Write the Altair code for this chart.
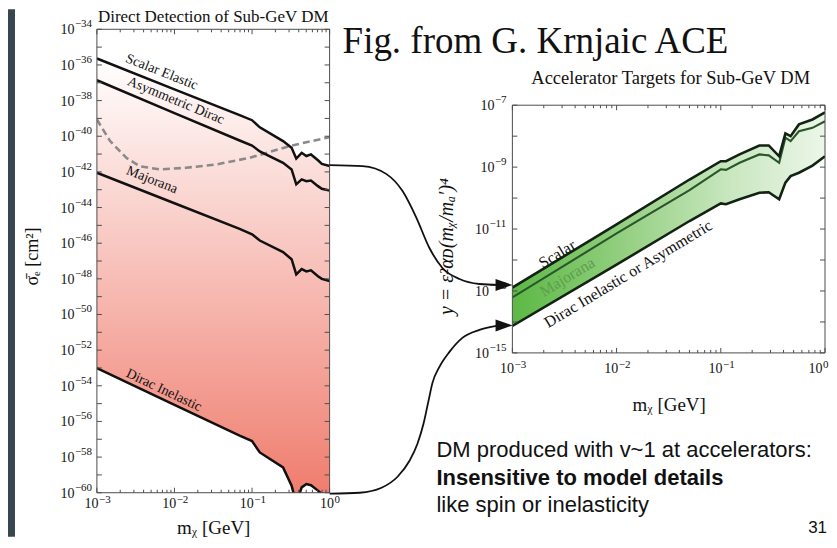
import altair as alt
import pandas as pd

SERIF = "Liberation Serif, DejaVu Serif, serif"
SANS = "Liberation Sans, Arial, sans-serif"
SLATE = "#37474f"
FRAME = "#4d4d4d"
INK = "#111111"

# layout in px
L_W, L_H = 233, 464
R_W, R_H, R_TOP = 313, 324, 76
GAP = 183

# ---------------- Left: Direct Detection of Sub-GeV DM (log10 values) -------------
dd_log_mass = [-3.0, -2.0, -1.16, -1.0, -0.9, -0.6, -0.49, -0.43, -0.36, -0.3, -0.24, -0.15, -0.1, 0.0]
dd_scalar_elastic = [-35.64, -37.37, -38.82, -39.10, -39.50, -40.27, -40.65, -41.25, -40.93, -41.11, -41.02, -41.35, -41.55, -41.67]
dd_asymmetric_dirac = [-36.86, -38.70, -40.24, -40.52, -40.85, -41.49, -41.86, -42.70, -42.42, -42.52, -42.48, -42.80, -42.95, -43.04]
dd_majorana = [-42.05, -43.76, -45.20, -45.50, -45.85, -46.50, -46.90, -47.75, -47.45, -47.58, -47.52, -47.85, -48.00, -48.12]
dd_dirac_inelastic = [-53.01, -55.07, -56.80, -57.10, -57.74, -58.58, -59.60, -60.60, -59.70, -59.51, -59.58, -59.88, -60.07, -60.30]
dd_bound_log_mass = [-3.0, -2.83, -2.62, -2.45, -2.19, -1.85, -1.46, -1.03, -0.515, 0.0]
dd_bound_log_sigma = [-39.06, -40.27, -41.21, -41.68, -41.86, -41.77, -41.58, -41.21, -40.55, -40.05]
dd_label_text = ["Scalar Elastic", "Asymmetric Dirac", "Majorana", "Dirac Inelastic"]
dd_label_log_mass = [-2.163, -1.983, -2.29, -2.137]
dd_label_log_sigma = [-36.40, -38.00, -42.45, -54.25]
dd_label_angle = [21.6, 22.5, 21.5, 25.3]
dd_x_domain = [1e-3, 1.0]
dd_y_domain = [1e-60, 1e-34]
dd_y_label_exps = [-60, -58, -56, -54, -52, -50, -48, -46, -44, -42, -40, -38, -36, -34]

# ---------------- Right: Accelerator Targets for Sub-GeV DM -------------
acc_log_mass = [-3.0, -2.0, -1.3, -1.0, -0.95, -0.82, -0.63, -0.54, -0.44, -0.38, -0.33, -0.25, -0.12, 0.0]
acc_scalar = [-12.89, -10.85, -9.40, -8.81, -8.81, -8.59, -8.30, -8.30, -8.65, -7.91, -8.00, -7.62, -7.46, -7.23]
acc_majorana = [-13.21, -11.14, -9.74, -9.07, -9.09, -8.86, -8.59, -8.62, -8.86, -8.05, -8.16, -7.84, -7.73, -7.52]
acc_dirac_inel_or_asym = [-14.13, -12.15, -10.74, -10.17, -10.20, -10.04, -9.83, -9.81, -10.04, -9.50, -9.29, -9.18, -8.95, -8.65]
acc_label_text = ["Scalar", "Majorana", "Dirac Inelastic or Asymmetric"]
acc_label_log_mass = [-2.569, -2.473, -1.888]
acc_label_log_y = [-11.81, -12.55, -12.45]
acc_label_color = ["#111111", "#5e9e4e", "#111111"]
acc_x_domain = [1e-3, 1.0]
acc_y_domain = [1e-15, 1e-7]
acc_y_label_exps_1digit = [-9, -7]
acc_y_label_exps_2digit = [-15, -13, -11]

# connector arrows (expressed in the right panel's coordinates, log10)
arrow_top_log_mass = [-4.754, -4.438, -4.208, -4.054, -3.920, -3.796, -3.671, -3.508, -3.316, -3.125]
arrow_top_log_y = [-8.935, -8.968, -9.226, -9.774, -10.645, -11.613, -12.258, -12.613, -12.774, -12.806]
arrow_bottom_log_mass = [-4.754, -4.466, -4.256, -4.102, -3.987, -3.911, -3.853, -3.805, -3.767, -3.700, -3.604, -3.480, -3.316, -3.153]
arrow_bottom_log_y = [-19.548, -19.516, -19.355, -19.000, -18.484, -17.935, -17.290, -16.548, -15.968, -15.452, -14.968, -14.516, -14.258, -14.129]
arrow_head_log_mass = [-3.08, -3.08]
arrow_head_log_y = [-12.806, -14.113]

x_label_exps_neg = [-3, -2, -1]
x_label_exps_zero = [0]
x_major_ticks = [1e-3, 1e-2, 1e-1, 1.0]
x_minor_ticks = [k * 10.0 ** e for e in (-3, -2, -1) for k in range(2, 10)]
dd_y_ticks = [10.0 ** e for e in range(-60, -33)]
acc_y_ticks = [10.0 ** e for e in range(-15, -6)]

slide_lines = ["DM produced with v~1 at accelerators:", "Insensitive to model details", "like spin or inelasticity"]
page_number = "31"


def pw(vals):
    return [10.0 ** v for v in vals]


def exp_str(e):
    return ("\u2212" + str(-e)) if e < 0 else str(e)


one = pd.DataFrame({"a": [0]})

ax_common = dict(labels=False, ticks=False, tickSize=0, domain=False, grid=False,
                 titleFont=SERIF, titleColor=INK, titleFontWeight="normal")


def tick_layers(xs, ys, xa, ya, width, top_px, bottom_px, y_ticks):
    out = []
    for vals, ln in ((x_major_ticks, 5), (x_minor_ticks, 3)):
        base = alt.Chart(pd.DataFrame({"t": vals})).mark_rule(color=FRAME, strokeWidth=1)
        out.append(base.encode(x=alt.X("t:Q", scale=xs, axis=xa), y=alt.value(bottom_px), y2=alt.value(bottom_px - ln)))
        out.append(base.encode(x=alt.X("t:Q", scale=xs, axis=xa), y=alt.value(top_px), y2=alt.value(top_px + ln)))
    base = alt.Chart(pd.DataFrame({"t": y_ticks})).mark_rule(color=FRAME, strokeWidth=1)
    out.append(base.encode(y=alt.Y("t:Q", scale=ys, axis=ya), x=alt.value(0), x2=alt.value(5)))
    out.append(base.encode(y=alt.Y("t:Q", scale=ys, axis=ya), x=alt.value(width), x2=alt.value(width - 5)))
    return out


def x_label_layers(exps, xs, xa, y_base, dx):
    d = pd.DataFrame({"v": [10.0 ** e for e in exps], "base": "10", "exp": [exp_str(e) for e in exps]})
    b = alt.Chart(d).mark_text(font=SERIF, fontSize=14, color=INK, align="right", baseline="top", dx=dx).encode(
        x=alt.X("v:Q", scale=xs, axis=xa), y=alt.value(y_base), text="base:N")
    s = alt.Chart(d).mark_text(font=SERIF, fontSize=11, color=INK, align="left", baseline="top", dx=dx + 0.5).encode(
        x=alt.X("v:Q", scale=xs, axis=xa), y=alt.value(y_base - 3), text="exp:N")
    return [b, s]


def y_label_layers(exps, ys, ya, x_exp):
    d = pd.DataFrame({"v": [10.0 ** e for e in exps], "base": "10", "exp": [exp_str(e) for e in exps]})
    b = alt.Chart(d).mark_text(font=SERIF, fontSize=14, color=INK, align="right", baseline="middle", dy=1).encode(
        y=alt.Y("v:Q", scale=ys, axis=ya), x=alt.value(x_exp - 0.5), text="base:N")
    s = alt.Chart(d).mark_text(font=SERIF, fontSize=11, color=INK, align="left", baseline="middle", dy=-5).encode(
        y=alt.Y("v:Q", scale=ys, axis=ya), x=alt.value(x_exp), text="exp:N")
    return [b, s]


# ================= LEFT PANEL =================
xs_l = alt.Scale(type="log", domain=dd_x_domain, nice=False)
ys_l = alt.Scale(type="log", domain=dd_y_domain, nice=False)

dd_x_axis = alt.Axis(title="mᵪ [GeV]", titleFontSize=19, titleX=L_W / 2, titleY=41, titleAlign="center",
                     titleBaseline="alphabetic", **ax_common)
dd_y_axis = alt.Axis(title="σ̄ₑ [cm²]", titleFontSize=18, titleAngle=270, titleX=-64, titleY=227,
                     titleAlign="center", titleBaseline="middle", **ax_common)

dd = pd.DataFrame({"m": pw(dd_log_mass), "top": pw(dd_scalar_elastic), "bottom": pw(dd_dirac_inelastic)})
dd_long = pd.concat([
    pd.DataFrame({"m": pw(dd_log_mass), "s": pw(v), "curve": n})
    for n, v in [("Scalar Elastic", dd_scalar_elastic), ("Asymmetric Dirac", dd_asymmetric_dirac),
                 ("Majorana", dd_majorana), ("Dirac Inelastic", dd_dirac_inelastic)]
])
dd_bound = pd.DataFrame({"m": pw(dd_bound_log_mass), "s": pw(dd_bound_log_sigma)})
dd_labels = pd.DataFrame({"m": pw(dd_label_log_mass), "s": pw(dd_label_log_sigma), "text": dd_label_text,
                          "angle": dd_label_angle})
dd_frame = pd.DataFrame({"x0": [dd_x_domain[0]], "x1": [dd_x_domain[1]], "y0": [dd_y_domain[0]], "y1": [dd_y_domain[1]]})

red_grad = alt.Gradient(gradient="linear",
                        stops=[alt.GradientStop(color="#ffffff", offset=0), alt.GradientStop(color="#ef7a6b", offset=1)],
                        x1=0, x2=0, y1=0, y2=1)

XL = dict(scale=xs_l, axis=dd_x_axis)
YL = dict(scale=ys_l, axis=dd_y_axis)

strip = alt.Chart(one).mark_rect(color=SLATE).encode(
    x=alt.value(-89), x2=alt.value(-82), y=alt.value(-20), y2=alt.value(508))
dd_area = alt.Chart(dd).mark_area(clip=True, color=red_grad).encode(
    x=alt.X("m:Q", **XL), y=alt.Y("top:Q", **YL), y2="bottom:Q")
dd_bound_line = alt.Chart(dd_bound).mark_line(clip=True, color="#8a8a8a", strokeWidth=2.6, strokeDash=[7, 4]).encode(
    x=alt.X("m:Q", **XL), y=alt.Y("s:Q", **YL))
dd_lines = alt.Chart(dd_long).mark_line(clip=True, color=INK, strokeWidth=2.5).encode(
    x=alt.X("m:Q", **XL), y=alt.Y("s:Q", **YL), detail="curve:N")
dd_frame_rect = alt.Chart(dd_frame).mark_rect(fillOpacity=0, stroke=FRAME, strokeWidth=1).encode(
    x=alt.X("x0:Q", **XL), x2="x1:Q", y=alt.Y("y0:Q", **YL), y2="y1:Q")
dd_text = alt.Chart(dd_labels).mark_text(font=SERIF, fontSize=14, color=INK, align="center", baseline="middle").encode(
    x=alt.X("m:Q", **XL), y=alt.Y("s:Q", **YL), text="text:N",
    angle=alt.Angle("angle:Q", scale=None))
dd_title = alt.Chart(one).mark_text(font=SERIF, fontSize=17, color=INK, align="center", baseline="top").encode(
    x=alt.value(L_W / 2), y=alt.value(-20), text=alt.value("Direct Detection of Sub-GeV DM"))

left = alt.layer(strip, dd_area, dd_bound_line, dd_lines, dd_frame_rect,
                 *tick_layers(xs_l, ys_l, dd_x_axis, dd_y_axis, L_W, 0, L_H, dd_y_ticks),
                 *x_label_layers(x_label_exps_neg, xs_l, dd_x_axis, L_H + 4, 1.7),
                 *x_label_layers(x_label_exps_zero, xs_l, dd_x_axis, L_H + 4, 4.3),
                 *y_label_layers(dd_y_label_exps, ys_l, dd_y_axis, -22),
                 dd_text, dd_title).properties(width=L_W, height=L_H)

# ================= RIGHT PANEL =================
xs_r = alt.Scale(type="log", domain=acc_x_domain, nice=False)
ys_r = alt.Scale(type="log", domain=acc_y_domain, nice=False, range=[R_H, R_TOP])

acc_x_axis = alt.Axis(title="mᵪ [GeV]", titleFontSize=19, titleX=R_W / 2, titleY=58, titleAlign="center",
                      titleBaseline="alphabetic", **ax_common)
acc_y_axis = alt.Axis(title="y = ε²αᴅ(mᵪ/mₐ′)⁴", titleFontSize=20, titleFontStyle="italic",
                      titleAngle=270, titleX=-66, titleY=217, titleAlign="center", titleBaseline="middle", **ax_common)

XR = dict(scale=xs_r, axis=acc_x_axis)
YR = dict(scale=ys_r, axis=acc_y_axis)

acc = pd.DataFrame({"m": pw(acc_log_mass), "top": pw(acc_scalar), "bottom": pw(acc_dirac_inel_or_asym)})
acc_outer = pd.concat([
    pd.DataFrame({"m": pw(acc_log_mass), "y": pw(v), "curve": n})
    for n, v in [("Scalar", acc_scalar), ("Dirac Inelastic or Asymmetric", acc_dirac_inel_or_asym)]
])
acc_maj = pd.DataFrame({"m": pw(acc_log_mass), "y": pw(acc_majorana)})
acc_labels = pd.DataFrame({"m": pw(acc_label_log_mass), "y": pw(acc_label_log_y), "text": acc_label_text,
                           "color": acc_label_color})
acc_frame = pd.DataFrame({"x0": [acc_x_domain[0]], "x1": [acc_x_domain[1]], "y0": [acc_y_domain[0]], "y1": [acc_y_domain[1]]})
arrows = pd.concat([
    pd.DataFrame({"m": pw(arrow_top_log_mass), "y": pw(arrow_top_log_y), "arrow": "top"}),
    pd.DataFrame({"m": pw(arrow_bottom_log_mass), "y": pw(arrow_bottom_log_y), "arrow": "bottom"}),
])
heads = pd.DataFrame({"m": pw(arrow_head_log_mass), "y": pw(arrow_head_log_y)})

green_grad = alt.Gradient(gradient="linear",
                          stops=[alt.GradientStop(color="#5cb845", offset=0),
                                 alt.GradientStop(color="#93cf80", offset=0.35),
                                 alt.GradientStop(color="#c9e7c0", offset=0.7),
                                 alt.GradientStop(color="#ecf6e9", offset=1)],
                          x1=0, x2=1, y1=0.5, y2=0.5)

acc_area = alt.Chart(acc).mark_area(clip=True, color=green_grad).encode(
    x=alt.X("m:Q", **XR), y=alt.Y("bottom:Q", **YR), y2="top:Q")
acc_maj_line = alt.Chart(acc_maj).mark_line(clip=True, color="#2a562a", strokeWidth=2.1).encode(
    x=alt.X("m:Q", **XR), y=alt.Y("y:Q", **YR))
acc_outer_lines = alt.Chart(acc_outer).mark_line(clip=True, color="#132313", strokeWidth=2.6).encode(
    x=alt.X("m:Q", **XR), y=alt.Y("y:Q", **YR), detail="curve:N")
acc_frame_rect = alt.Chart(acc_frame).mark_rect(fillOpacity=0, stroke=FRAME, strokeWidth=1).encode(
    x=alt.X("x0:Q", **XR), x2="x1:Q", y=alt.Y("y0:Q", **YR), y2="y1:Q")
acc_text = alt.Chart(acc_labels).mark_text(font=SERIF, fontSize=16, align="center", baseline="middle", angle=328.8).encode(
    x=alt.X("m:Q", **XR), y=alt.Y("y:Q", **YR), text="text:N",
    color=alt.Color("color:N", scale=None))
acc_title = alt.Chart(one).mark_text(font=SERIF, fontSize=18.5, color=INK, align="center", baseline="alphabetic").encode(
    x=alt.value(R_W / 2 + 2), y=alt.value(55), text=alt.value("Accelerator Targets for Sub-GeV DM"))
fig_note = alt.Chart(one).mark_text(font=SERIF, fontSize=37, color=INK, align="left", baseline="alphabetic").encode(
    x=alt.value(-170), y=alt.value(24), text=alt.value("Fig. from G. Krnjaic ACE"))
arrow_lines = alt.Chart(arrows).mark_line(color=INK, strokeWidth=1.8, interpolate="monotone").encode(
    x=alt.X("m:Q", **XR), y=alt.Y("y:Q", **YR), detail="arrow:N")
arrow_heads = alt.Chart(heads).mark_point(shape="M-1,-0.7L1,0L-1,0.7Z", filled=True, color=INK, size=289, opacity=1).encode(
    x=alt.X("m:Q", **XR), y=alt.Y("y:Q", **YR))

slide_text = [
    alt.Chart(one).mark_text(font=SANS, fontSize=22, color=INK, align="left", baseline="alphabetic").encode(
        x=alt.value(-76), y=alt.value(428), text=alt.value(slide_lines[0])),
    alt.Chart(one).mark_text(font=SANS, fontSize=22, fontWeight="bold", color=INK, align="left",
                             baseline="alphabetic").encode(
        x=alt.value(-76), y=alt.value(456), text=alt.value(slide_lines[1])),
    alt.Chart(one).mark_text(font=SANS, fontSize=22, color=INK, align="left", baseline="alphabetic").encode(
        x=alt.value(-76), y=alt.value(483), text=alt.value(slide_lines[2])),
    alt.Chart(one).mark_text(font=SANS, fontSize=17, color=INK, align="right", baseline="bottom").encode(
        x=alt.value(315), y=alt.value(508), text=alt.value(page_number)),
]

right = alt.layer(acc_area, acc_maj_line, acc_outer_lines, acc_frame_rect,
                  *tick_layers(xs_r, ys_r, acc_x_axis, acc_y_axis, R_W, R_TOP, R_H, acc_y_ticks),
                  *x_label_layers(x_label_exps_neg, xs_r, acc_x_axis, R_H + 9, 1.7),
                  *x_label_layers(x_label_exps_zero, xs_r, acc_x_axis, R_H + 9, -2.5),
                  *y_label_layers(acc_y_label_exps_2digit, ys_r, acc_y_axis, -23),
                  *y_label_layers(acc_y_label_exps_1digit, ys_r, acc_y_axis, -17.5),
                  acc_text, acc_title, fig_note, *slide_text, arrow_lines, arrow_heads).properties(width=R_W, height=R_H)

chart = alt.hconcat(left, right, spacing=GAP, bounds="flush", padding=0).configure_view(stroke=None)

chart.save("out.html", embed_options={"renderer": "svg", "actions": False})
